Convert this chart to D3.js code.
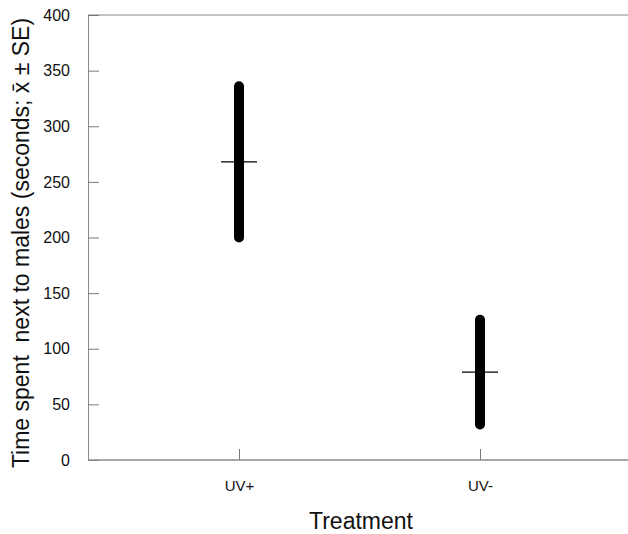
<!DOCTYPE html>
<html>
<head>
<meta charset="utf-8">
<script src="https://cdn.jsdelivr.net/npm/d3@7"></script>
<style>
  body { margin: 0; background: #fff; }
  text { font-family: "Liberation Sans", Arial, sans-serif; }
</style>
</head>
<body>
<div id="chart"></div>
<script>
// data
var categories = ['UV+', 'UV-'];
var means = [268, 79];
var se = [68, 47];
var yTicks = [0, 50, 100, 150, 200, 250, 300, 350, 400];

var W = 628, H = 534;
var margin = {top: 15, left: 88, bottom: 74};

var svg = d3.select('#chart').append('svg')
    .attr('width', W)
    .attr('height', H);

var y = d3.scaleLinear()
    .domain([0, 400])
    .range([H - margin.bottom, margin.top]);

var x = d3.scalePoint()
    .domain(categories)
    .range([239, 480]);

// top frame line, grey like the original
svg.append('line')
    .attr('x1', margin.left).attr('x2', W)
    .attr('y1', y(400)).attr('y2', y(400))
    .style('stroke', '#8a8a8a').style('stroke-width', 1.2);

// y axis, ticks pointing inwards
var yAxis = svg.append('g')
    .attr('transform', 'translate(' + margin.left + ',0)')
    .call(d3.axisRight(y).tickValues(yTicks).tickSize(11).tickFormat(d3.format('d')));
yAxis.select('.domain').style('stroke', '#8a8a8a');
yAxis.selectAll('.tick line').style('stroke', '#777');
yAxis.selectAll('.tick text')
    .attr('x', -18)
    .attr('text-anchor', 'end')
    .style('font-size', '16px')
    .style('fill', '#111');

// x axis, ticks pointing up
var xAxis = svg.append('g')
    .attr('transform', 'translate(0,' + y(0) + ')')
    .call(d3.axisTop(x).tickSize(11).tickSizeOuter(0));
xAxis.select('.domain').remove();
xAxis.selectAll('.tick line').style('stroke', '#777');
xAxis.selectAll('.tick text')
    .attr('y', 31)
    .attr('dy', 0)
    .style('font-size', '15px')
    .style('fill', '#111');
svg.append('line')
    .attr('x1', margin.left).attr('x2', W)
    .attr('y1', y(0)).attr('y2', y(0))
    .style('stroke', '#8a8a8a').style('stroke-width', 1.4);

// error bars (mean ± SE), thick with round ends
svg.selectAll('.err')
    .data(categories)
    .enter().append('line')
    .attr('class', 'err')
    .attr('x1', function(d) { return x(d); })
    .attr('x2', function(d) { return x(d); })
    .attr('y1', function(d, i) { return y(means[i] + se[i]); })
    .attr('y2', function(d, i) { return y(means[i] - se[i]); })
    .style('stroke', '#000')
    .style('stroke-width', 10)
    .style('stroke-linecap', 'round');

// mean marks
svg.selectAll('.mean')
    .data(categories)
    .enter().append('line')
    .attr('class', 'mean')
    .attr('x1', function(d) { return x(d) - 18; })
    .attr('x2', function(d) { return x(d) + 18; })
    .attr('y1', function(d, i) { return y(means[i]); })
    .attr('y2', function(d, i) { return y(means[i]); })
    .style('stroke', '#000')
    .style('stroke-width', 1.3);

// axis titles
svg.append('text')
    .attr('x', 361)
    .attr('y', 529)
    .attr('text-anchor', 'middle')
    .style('font-size', '23px')
    .style('fill', '#111')
    .text('Treatment');

svg.append('text')
    .attr('transform', 'translate(29,' + 243 + ') rotate(-90)')
    .attr('text-anchor', 'middle')
    .style('font-size', '23px')
    .style('fill', '#111')
    .style('white-space', 'pre')
    .attr('xml:space', 'preserve')
    .text('Time spent  next to males (seconds; x\u0304 \u00b1 SE)');
</script>
</body>
</html>
